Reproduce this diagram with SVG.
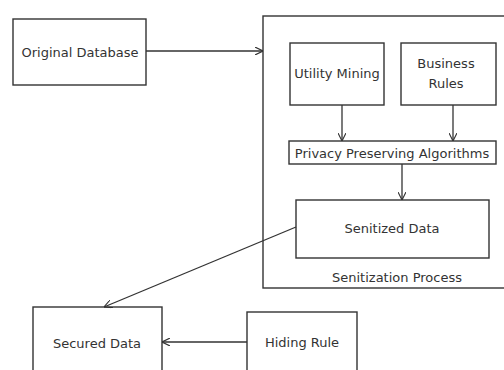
<svg xmlns="http://www.w3.org/2000/svg" width="504" height="370" viewBox="0 0 504 370">
<defs>
<marker id="arr" viewBox="0 0 10 10" refX="10" refY="5" markerWidth="8" markerHeight="8" markerUnits="userSpaceOnUse" orient="auto">
<path d="M0,0 L10,5 L0,10" fill="none" stroke="#333" stroke-width="1.4"/>
</marker>
<style>
.box{fill:#fff;stroke:#333;stroke-width:1.4}
.t{font-family:"DejaVu Sans",Verdana,sans-serif;font-size:13px;fill:#333;text-anchor:middle;dominant-baseline:central}
.c{fill:none;stroke:#333;stroke-width:1.3;marker-end:url(#arr)}
</style>
</defs>
<rect width="504" height="370" fill="#fff"/>
<g id="senitization-process">
<rect class="box" x="263" y="16" width="250" height="272"/>
<text class="t" x="397" y="277">Senitization Process</text>
</g>
<g id="original-database">
<rect class="box" x="13" y="19" width="133" height="66"/>
<text class="t" x="80" y="52">Original Database</text>
</g>
<g id="utility-mining">
<rect class="box" x="290" y="43" width="94" height="62"/>
<text class="t" x="337" y="73">Utility Mining</text>
</g>
<g id="business-rules">
<rect class="box" x="401" y="43" width="95" height="62"/>
<text class="t" x="446" y="63">Business</text>
<text class="t" x="446" y="83">Rules</text>
</g>
<g id="privacy-preserving">
<rect class="box" x="289" y="141" width="207" height="23"/>
<text class="t" x="392" y="153">Privacy Preserving Algorithms</text>
</g>
<g id="senitized-data">
<rect class="box" x="296" y="200" width="193" height="58"/>
<text class="t" x="392" y="228">Senitized Data</text>
</g>
<g id="secured-data">
<rect class="box" x="33" y="307" width="129" height="70"/>
<text class="t" x="97" y="343">Secured Data</text>
</g>
<g id="hiding-rule">
<rect class="box" x="247" y="312" width="110" height="65"/>
<text class="t" x="302" y="342">Hiding Rule</text>
</g>
<g id="connectors">
<line class="c" x1="146" y1="51" x2="263" y2="51"/>
<line class="c" x1="342" y1="105" x2="342" y2="141"/>
<line class="c" x1="453" y1="105" x2="453" y2="141"/>
<line class="c" x1="402" y1="164" x2="402" y2="200"/>
<line class="c" x1="296" y1="227" x2="104" y2="307"/>
<line class="c" x1="247" y1="342" x2="162" y2="342"/>
</g>
</svg>
